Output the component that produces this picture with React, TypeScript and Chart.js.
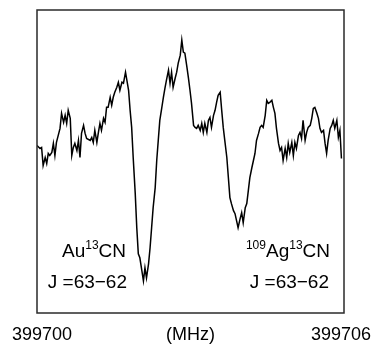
import React, { useEffect, useRef } from "react";
import { Chart, registerables } from "chart.js";

Chart.register(...registerables);

// Frequency axis (MHz)
const freqStartMHz = 399700;
const freqEndMHz = 399706;

// Frequency offsets from 399700 MHz for each spectrum sample
const freqOffsetMHz = [
  0, 0.06, 0.09, 0.12, 0.16, 0.19, 0.22, 0.25, 0.29, 0.32, 0.35, 0.38, 0.45, 0.48, 0.52, 0.55, 0.58, 0.61, 0.65, 0.68,
  0.71, 0.74, 0.78, 0.81, 0.84, 0.87, 0.91, 0.94, 0.97, 1.04, 1.07, 1.1, 1.13, 1.17, 1.2, 1.23, 1.26, 1.3, 1.33, 1.36,
  1.39, 1.43, 1.46, 1.49, 1.52, 1.56, 1.59, 1.62, 1.66, 1.69, 1.73, 1.79, 1.82, 1.85, 1.88, 1.92, 1.95, 1.98, 2.01, 2.05,
  2.08, 2.11, 2.14, 2.18, 2.21, 2.24, 2.27, 2.31, 2.34, 2.37, 2.4, 2.44, 2.47, 2.5, 2.53, 2.57, 2.6, 2.63, 2.66, 2.7,
  2.73, 2.76, 2.8, 2.83, 2.86, 2.89, 2.93, 2.96, 2.99, 3.02, 3.06, 3.09, 3.12, 3.15, 3.19, 3.22, 3.25, 3.28, 3.32, 3.35,
  3.38, 3.41, 3.45, 3.48, 3.51, 3.54, 3.58, 3.61, 3.64, 3.67, 3.71, 3.74, 3.77, 3.8, 3.84, 3.87, 3.9, 3.93, 3.97, 4.0,
  4.03, 4.07, 4.1, 4.13, 4.16, 4.2, 4.23, 4.26, 4.29, 4.33, 4.36, 4.39, 4.42, 4.46, 4.49, 4.52, 4.55, 4.59, 4.62, 4.65,
  4.68, 4.72, 4.75, 4.78, 4.81, 4.85, 4.88, 4.91, 4.94, 4.98, 5.01, 5.04, 5.07, 5.11, 5.14, 5.17, 5.2, 5.24, 5.27, 5.3,
  5.34, 5.37, 5.4, 5.43, 5.47, 5.5, 5.53, 5.56, 5.6, 5.63, 5.66, 5.69, 5.73, 5.76, 5.79, 5.82, 5.86, 5.89, 5.92, 5.95,
];

// Intensity (arbitrary units)
const intensity = [
  5, 2, 3, -15, -7, -13, -3, -5, -2, 7, -5, 8, 22, 37, 28, 35, 27, 40, 32, -5,
  3, 7, 0, 10, -7, 17, 25, 17, 12, 10, 13, 8, 20, 8, 18, 27, 20, 32, 28, 43,
  43, 53, 45, 53, 58, 63, 68, 60, 68, 67, 78, 60, 40, 23, -7, -43, -77, -103, -107, -120,
  -130, -117, -127, -113, -97, -77, -57, -37, -10, 10, 30, 43, 53, 62, 70, 80, 67, 78, 63, 72,
  78, 87, 95, 110, 98, 97, 83, 72, 60, 47, 25, 23, 22, 25, 20, 27, 18, 27, 18, 30,
  33, 23, 35, 40, 48, 55, 58, 40, 23, 10, -7, -27, -47, -53, -60, -63, -70, -77, -68, -62,
  -72, -57, -53, -40, -27, -17, -10, -3, 10, 17, 23, 25, 23, 35, 50, 47, 48, 50, 43, 37,
  22, 7, 0, 3, -10, 2, -7, 7, -2, 8, -5, 8, 2, 15, 18, 12, 30, 10, 18, 23,
  25, 32, 42, 43, 37, 32, 22, 18, 20, 7, -3, 10, 22, 25, 30, 22, 30, 13, 20, -8,
];

const intensityMin = -162;
const intensityMax = 140;

// Axis labels
const axisTickValues = [399700, 399703, 399706];
const axisTickLabels = ["399700", "(MHz)", "399706"];

// Line identifications: [text, isSuperscript]
const leftSpecies: [string, boolean][] = [["Au", false], ["13", true], ["CN", false]];
const rightSpecies: [string, boolean][] = [["109", true], ["Ag", false], ["13", true], ["CN", false]];
const leftTransition = "J =63\u221262";
const rightTransition = "J =63\u221262";

const FONT_FAMILY = "'Liberation Sans', Arial, Helvetica, sans-serif";

function drawRich(ctx: CanvasRenderingContext2D, parts: [string, boolean][], rightX: number, baseY: number, size: number, supSize: number) {
  let total = 0;
  const widths: number[] = [];
  for (const [t, sup] of parts) {
    ctx.font = `${sup ? supSize : size}px ${FONT_FAMILY}`;
    const w = ctx.measureText(t).width;
    widths.push(w);
    total += w;
  }
  let x = rightX - total;
  ctx.textAlign = "left";
  ctx.textBaseline = "alphabetic";
  parts.forEach(([t, sup], i) => {
    ctx.font = `${sup ? supSize : size}px ${FONT_FAMILY}`;
    ctx.fillText(t, x, sup ? baseY - size * 0.42 : baseY);
    x += widths[i];
  });
}

const overlayPlugin = {
  id: "spectrumOverlay",
  afterDraw(chart: any) {
    const ctx: CanvasRenderingContext2D = chart.ctx;
    const area = chart.chartArea;
    const xScale = chart.scales.x;
    ctx.save();
    // frame
    ctx.strokeStyle = "#2a2a2a";
    ctx.lineWidth = 1.5;
    ctx.strokeRect(area.left, area.top, area.right - area.left, area.bottom - area.top);

    ctx.fillStyle = "#000";
    // axis labels
    ctx.font = `18px ${FONT_FAMILY}`;
    ctx.textAlign = "center";
    ctx.textBaseline = "alphabetic";
    axisTickValues.forEach((v, i) => {
      const px = xScale.getPixelForValue(v);
      const shift = i === 0 ? 5 : i === axisTickValues.length - 1 ? -3 : 0;
      ctx.fillText(axisTickLabels[i], px + shift, area.bottom + 27);
    });

    // line identifications
    drawRich(ctx, leftSpecies, area.left + 89, area.bottom - 56, 19, 12);
    drawRich(ctx, rightSpecies, area.left + 293, area.bottom - 56, 19, 12);
    ctx.font = `19px ${FONT_FAMILY}`;
    ctx.textAlign = "right";
    ctx.fillText(leftTransition, area.left + 90, area.bottom - 25);
    ctx.fillText(rightTransition, area.left + 292, area.bottom - 25);
    ctx.restore();
  },
};

export default function App() {
  const canvasRef = useRef<HTMLCanvasElement | null>(null);

  useEffect(() => {
    if (!canvasRef.current) return;
    const points = freqOffsetMHz.map((off, i) => ({ x: freqStartMHz + off, y: intensity[i] }));
    const chart = new Chart(canvasRef.current, {
      type: "line",
      data: {
        datasets: [
          {
            data: points,
            borderColor: "#000",
            borderWidth: 1.5,
            pointRadius: 0,
            tension: 0,
            fill: false,
          },
        ],
      },
      options: {
        animation: false,
        responsive: true,
        maintainAspectRatio: false,
        parsing: false as any,
        layout: { padding: { left: 37, right: 27, top: 10, bottom: 31 } },
        plugins: { legend: { display: false }, tooltip: { enabled: false } },
        scales: {
          x: { type: "linear", min: freqStartMHz, max: freqEndMHz, display: false },
          y: { type: "linear", min: intensityMin, max: intensityMax, display: false },
        },
      },
      plugins: [overlayPlugin],
    });
    return () => chart.destroy();
  }, []);

  return (
    <div style={{ position: "fixed", left: 0, top: 0, width: 371, height: 344, background: "#fff" }}>
      <canvas ref={canvasRef} />
    </div>
  );
}
